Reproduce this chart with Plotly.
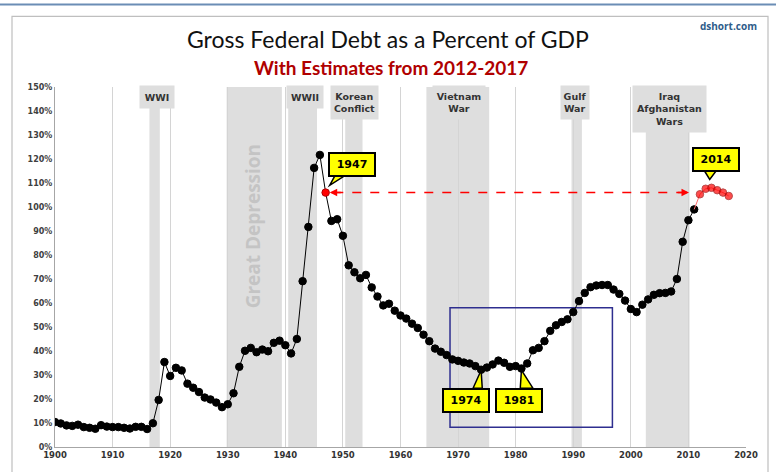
import plotly.graph_objects as go

# ---------------- data ----------------
years = list(range(1900, 2012))
debt_pct = [
    10.4, 9.8, 9.0, 8.8, 9.3, 8.3, 8.0, 7.6, 9.1, 8.5,          # 1900-1909
    8.3, 8.3, 8.0, 7.7, 8.4, 8.4, 7.5, 9.9, 19.6, 35.4,         # 1910-1919
    29.6, 33.0, 31.9, 26.4, 24.7, 22.9, 20.6, 19.8, 18.5, 16.6, # 1920-1929
    17.8, 22.4, 33.4, 40.1, 41.3, 39.5, 40.6, 39.9, 43.4, 44.3, # 1930-1939
    42.4, 39.0, 45.0, 69.1, 91.7, 116.3, 121.7, 106.0, 94.2, 94.9, # 1940-1949
    88.0, 75.7, 72.8, 70.3, 71.7, 66.5, 62.7, 59.0, 59.7, 56.8, # 1950-1959
    54.8, 53.5, 51.4, 49.6, 46.8, 44.1, 41.0, 39.7, 38.3, 36.5, # 1960-1969
    35.9, 35.2, 34.8, 33.7, 32.2, 33.1, 34.4, 36.0, 35.1, 33.4, # 1970-1979
    33.7, 32.7, 34.8, 40.3, 41.3, 44.1, 48.4, 50.7, 52.1, 53.2, # 1980-1989
    56.2, 60.8, 64.2, 66.6, 67.3, 67.5, 67.5, 65.6, 63.8, 61.0, # 1990-1999
    57.5, 56.2, 59.3, 61.5, 63.4, 64.1, 64.2, 64.8, 70.0, 85.5, # 2000-2009
    94.5, 99.0,                                                  # 2010-2011
]
est_years = [2012, 2013, 2014, 2015, 2016, 2017]
est_pct = [105.3, 107.6, 108.0, 107.0, 106.0, 104.6]

highlight_year = 1947

# shaded periods
period_labels = ["WWI", "WWII", "Korean<br>Conflict", "Vietnam<br>War", "Gulf<br>War", "Iraq<br>Afghanistan<br>Wars"]
period_start = [1916.4, 1940.5, 1950.4, 1964.5, 1989.7, 2002.6]
period_end = [1918.2, 1945.5, 1953.4, 1975.4, 1991.5, 2010.2]
label_center = [1917.7, 1943.4, 1952.0, 1970.1, 1990.3, 2006.7]
label_width = [34, 36, 47, 52, 28, 73]
label_height = [22, 22, 33, 33, 33, 46]

depression_start, depression_end = 1929.8, 1939.4

# callouts
callout_text = ["1947", "2014", "1974", "1981"]
callout_x = [1951.6, 2014.8, 1971.4, 1980.5]
callout_y = [117.8, 120.0, 19.5, 19.5]
tail_tip_x = [1947.7, 2013.7, 1974.0, 1981.0]
tail_tip_y = [109.0, 111.5, 32.0, 32.0]
tail_b0 = [1948.6, 2012.8, 1972.6, 1980.8]
tail_b1 = [1950.3, 2014.8, 1974.2, 1983.0]
tail_by = [113.0, 115.0, 24.5, 24.5]

# zoom rectangle (years, percent)
box_x = [1968.6, 1996.8]
box_y = [8.2, 58.0]

# red arrow ends (years)
arrow_x = [1947.7, 2010.1]

x_ticks = list(range(1900, 2021, 10))
y_ticks = list(range(0, 151, 10))
y_tick_text = [f"{v}%" for v in y_ticks]

# --------------- figure ---------------
W, H = 776, 472
ML, MR, MT, MB = 55, 30, 87, 23
PW, PH = W - ML - MR, H - MT - MB


def px_to_paper_x(px):
    return (px - ML) / PW


def px_to_paper_y(py):
    return (H - MB - py) / PH


fig = go.Figure()

marker_colors = ["#ff0000" if y == highlight_year else "#000000" for y in years]
marker_lines = ["#b00000" if y == highlight_year else "#000000" for y in years]

fig.add_trace(go.Scatter(
    x=years, y=debt_pct, mode="lines+markers",
    line=dict(color="#000000", width=1),
    marker=dict(color=marker_colors, size=7.5, line=dict(color=marker_lines, width=1)),
    hoverinfo="x+y", showlegend=False,
))
fig.add_trace(go.Scatter(
    x=[years[-1]] + est_years, y=[debt_pct[-1]] + est_pct, mode="lines+markers",
    line=dict(color="#ff6b6b", width=1),
    marker=dict(color="#ff0000", size=[0] + [7.5] * len(est_years),
                line=dict(color="#a00000", width=1)),
    hoverinfo="x+y", showlegend=False,
))

# shaded bands
for s, e in zip(period_start, period_end):
    fig.add_shape(type="rect", xref="x", yref="y", x0=s, x1=e, y0=0, y1=150,
                  fillcolor="#dedede", line_width=0, layer="below")
fig.add_shape(type="rect", xref="x", yref="y", x0=depression_start, x1=depression_end,
              y0=0, y1=150, fillcolor="#dedede", line_width=0, layer="below")

# band labels
for lab, cx, w, h in zip(period_labels, label_center, label_width, label_height):
    fig.add_annotation(x=cx, xref="x", y=px_to_paper_y(85), yref="paper",
                       xanchor="center", yanchor="top", text="<b>" + lab + "</b>",
                       showarrow=False, width=w, height=h, bgcolor="#dedede", borderpad=0,
                       font=dict(family="DejaVu Sans", size=9.5, color="#333333"))

fig.add_annotation(x=(depression_start + depression_end) / 2 - 0.2, xref="x", y=92, yref="y",
                   xanchor="center", yanchor="middle",
                   text="<b>Great Depression</b>", textangle=-90, showarrow=False,
                   font=dict(family="Open Sans", size=19, color="#c4c4c4"))

# zoom rectangle
fig.add_shape(type="rect", xref="x", yref="y", x0=box_x[0], x1=box_x[1],
              y0=box_y[0], y1=box_y[1], line=dict(color="#2e2e8f", width=1.5),
              layer="between")

# red dashed arrow
yv = debt_pct[years.index(highlight_year)]
fig.add_shape(type="line", xref="x", yref="y", x0=arrow_x[0] + 0.8, x1=arrow_x[1] - 0.8,
              y0=yv, y1=yv, line=dict(color="#ff0000", width=1.5, dash="dash"))
fig.add_annotation(x=arrow_x[0], y=yv, ax=arrow_x[0] + 2.2, ay=yv, axref="x", ayref="y",
                   xref="x", yref="y", showarrow=True, arrowhead=2, arrowsize=1,
                   arrowwidth=1.5, arrowcolor="#ff0000", text="")
fig.add_annotation(x=arrow_x[1], y=yv, ax=arrow_x[1] - 2.2, ay=yv, axref="x", ayref="y",
                   xref="x", yref="y", showarrow=True, arrowhead=2, arrowsize=1,
                   arrowwidth=1.5, arrowcolor="#ff0000", text="")

# callouts
for t, cx, cy, tx, ty, b0, b1, by in zip(callout_text, callout_x, callout_y, tail_tip_x,
                                         tail_tip_y, tail_b0, tail_b1, tail_by):
    fig.add_shape(type="path", xref="x", yref="y",
                  path=f"M {b0},{by} L {tx},{ty} L {b1},{by} Z",
                  fillcolor="#ffff00", line=dict(color="#000000", width=1.5), layer="above")
    fig.add_annotation(x=cx, y=cy, xref="x", yref="y", text="<b>" + t + "</b>",
                       xanchor="center", yanchor="middle",
                       showarrow=False, bgcolor="#ffff00", bordercolor="#000000",
                       borderwidth=2, width=42, height=19,
                       font=dict(family="DejaVu Sans", size=11, color="#000000"))

# titles
fig.add_annotation(x=px_to_paper_x(388), y=px_to_paper_y(39), xref="paper", yref="paper",
                   xanchor="center", yanchor="middle",
                   text="Gross Federal Debt as a Percent of GDP", showarrow=False,
                   font=dict(family="Lato", size=23, color="#111111"))
fig.add_annotation(x=px_to_paper_x(391), y=px_to_paper_y(67), xref="paper", yref="paper",
                   xanchor="center", yanchor="middle",
                   text="<b>With Estimates from 2012-2017</b>", showarrow=False,
                   font=dict(family="Lato", size=19, color="#b00000"))
fig.add_annotation(x=px_to_paper_x(728), y=px_to_paper_y(26), xref="paper", yref="paper",
                   xanchor="center", yanchor="middle",
                   text="<b>dshort.com</b>", showarrow=False,
                   font=dict(family="Open Sans", size=10, color="#2e5c8a"))

# frame lines
fig.add_shape(type="line", xref="paper", yref="paper", x0=px_to_paper_x(0), x1=px_to_paper_x(776),
              y0=px_to_paper_y(4), y1=px_to_paper_y(4), line=dict(color="#6b8db5", width=2))
fig.add_shape(type="rect", xref="paper", yref="paper", x0=px_to_paper_x(12), x1=px_to_paper_x(768),
              y0=px_to_paper_y(480), y1=px_to_paper_y(16), line=dict(color="#bfbfbf", width=1.2))

fig.update_layout(
    width=W, height=H, margin=dict(l=ML, r=MR, t=MT, b=MB),
    paper_bgcolor="white", plot_bgcolor="white", showlegend=False,
    xaxis=dict(range=[1900, 2020], tickvals=x_ticks, showgrid=True, gridcolor="#d4d4d4",
               gridwidth=1.3, showline=True, linecolor="#a6a6a6", linewidth=1.2,
               zeroline=False, ticks="",
               tickfont=dict(family="DejaVu Sans", size=8.5, color="#333333", weight="bold")),
    yaxis=dict(range=[0, 150], tickmode="array", tickvals=y_ticks, ticktext=y_tick_text,
               showgrid=False, showline=True, linecolor="#a6a6a6", linewidth=1.2,
               zeroline=False, ticks="",
               tickfont=dict(family="DejaVu Sans", size=8, color="#404040", weight="bold")),
)

fig.write_html("out.html", config={"displayModeBar": False},
               post_script="document.body.style.margin='0';")
